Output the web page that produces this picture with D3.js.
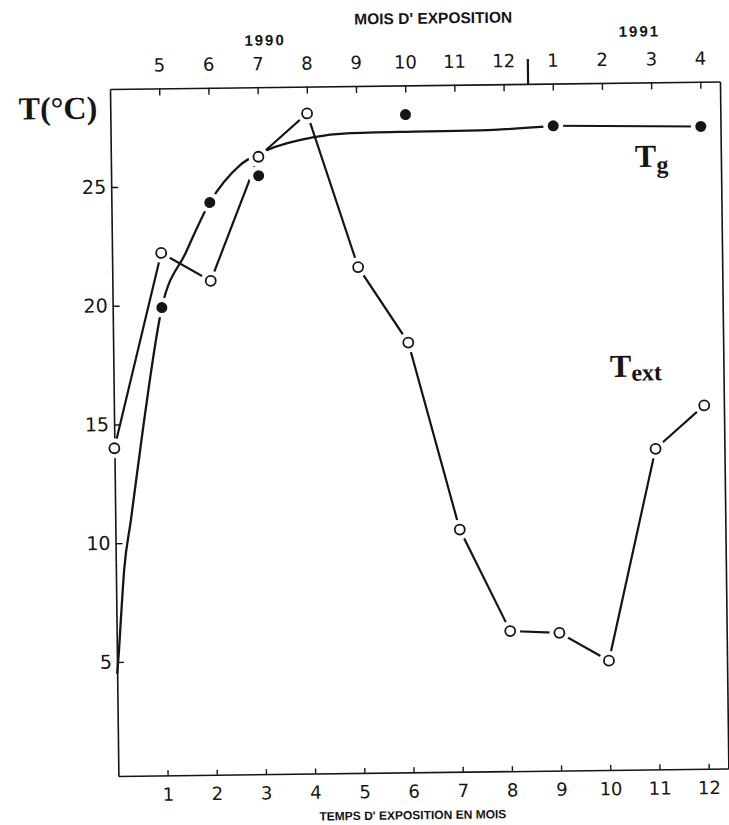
<!DOCTYPE html>
<html><head><meta charset="utf-8">
<script src="https://cdn.jsdelivr.net/npm/d3@7"></script>
<style>body{margin:0;background:#fff}</style>
</head><body>
<script>
// ---- data ----
const months = [0,1,2,3,4,5,6,7,8,9,10,11,12];
const textTemp = [14.0,22.2,21.0,26.2,28.0,21.5,18.3,10.4,6.1,6.0,4.8,13.7,15.5];
const tgMonths = [1,2,3,6,9,12];
const tgTemp = [19.9,24.3,25.4,27.9,27.35,27.25];
const tgCurveT = [0,0.04,0.09,0.17,0.32,0.6,1,1.5,2,2.62,3.17,4.11,4.8,6.16,7.52,9];
const tgCurveV = [4.5,5.4,6.8,8.9,11.0,15.0,19.9,22.2,24.3,25.85,26.47,26.99,27.14,27.18,27.2,27.35];
const tickMonths = [1,2,3,4,5,6,7,8,9,10,11,12];
const bottomLabels = ["1","2","3","4","5","6","7","8","9","10","11","12"];
const topLabels = ["5","6","7","8","9","10","11","12","1","2","3","4"];
const yTicks = [5,10,15,20,25];
const yearBreak = 8.5;

const W = 729, H = 825;
const PW = 610, PH = 687;
const ink = "#151515";

const svg = d3.select("body").append("svg").attr("width", W).attr("height", H)
  .style("background", "#fff");
const g = svg.append("g").attr("transform", "translate(110,89) rotate(-0.7)");

const x = d3.scaleLinear().domain([0, 12.4]).range([0, PW]);
const y = d3.scaleLinear().domain([0.2, 29.13]).range([PH, 0]);

const numFont = "'DejaVu Sans', sans-serif";

// top axis
const topAx = g.append("g").call(
  d3.axisTop(x).tickValues(tickMonths).tickSizeInner(-7).tickSizeOuter(0).tickPadding(17)
    .tickFormat((d, i) => topLabels[i]));
// bottom axis
const botAx = g.append("g").attr("transform", `translate(0,${PH})`).call(
  d3.axisBottom(x).tickValues(tickMonths).tickSizeInner(-5).tickSizeOuter(0).tickPadding(12.5)
    .tickFormat((d, i) => bottomLabels[i]));
// left axis
const leftAx = g.append("g").call(
  d3.axisLeft(y).tickValues(yTicks).tickSizeInner(-7).tickSizeOuter(0).tickPadding(5)
    .tickFormat(d3.format("d")));
// right axis
const rightAx = g.append("g").attr("transform", `translate(${PW},0)`).call(
  d3.axisRight(y).tickValues([]).tickSizeOuter(0));

[topAx, botAx, leftAx, rightAx].forEach(a => {
  a.selectAll("path.domain").attr("stroke", ink).attr("stroke-width", 1.6);
  a.selectAll(".tick line").attr("stroke", ink).attr("stroke-width", 1.4);
  a.selectAll(".tick text").attr("fill", ink).style("font-family", numFont)
    .style("font-size", "18px");
});
leftAx.selectAll(".tick text").style("font-size", "19px");

// year break marker
g.append("line").attr("x1", x(yearBreak)).attr("x2", x(yearBreak))
  .attr("y1", 0).attr("y2", -25).attr("stroke", ink).attr("stroke-width", 2.2);

// ---- series ----
const textPts = months.map((t, i) => ({t, v: textTemp[i]}));
const tgPts = tgMonths.map((t, i) => ({t, v: tgTemp[i]}));
const curvePts = tgCurveT.map((t, i) => ({t, v: tgCurveV[i]}));

const line = d3.line().x(d => x(d.t)).y(d => y(d.v));
const smooth = d3.line().x(d => x(d.t)).y(d => y(d.v)).curve(d3.curveMonotoneX);

g.append("path").attr("d", smooth(curvePts)).attr("fill", "none")
  .attr("stroke", ink).attr("stroke-width", 2.3);
g.append("path").attr("d", line(tgPts.filter(d => d.t >= 9))).attr("fill", "none")
  .attr("stroke", ink).attr("stroke-width", 2.0);
g.append("path").attr("d", line(textPts)).attr("fill", "none")
  .attr("stroke", ink).attr("stroke-width", 2.2);

// white halos to make the gaps around markers
g.selectAll("circle.halo").data(textPts.concat(tgPts)).enter().append("circle")
  .attr("class", "halo").attr("cx", d => x(d.t)).attr("cy", d => y(d.v))
  .attr("r", 10).attr("fill", "#fff");

g.selectAll("circle.open").data(textPts).enter().append("circle")
  .attr("class", "open").attr("cx", d => x(d.t)).attr("cy", d => y(d.v))
  .attr("r", 5).attr("fill", "#fff").attr("stroke", ink).attr("stroke-width", 1.8);
g.selectAll("circle.filled").data(tgPts).enter().append("circle")
  .attr("class", "filled").attr("cx", d => x(d.t)).attr("cy", d => y(d.v))
  .attr("r", 5.5).attr("fill", ink);

// ---- texts ----
const serif = "'Liberation Serif', 'Times New Roman', serif";
const sans = "'Liberation Sans', Arial, sans-serif";

g.append("text").attr("x", 324).attr("y", -61.5).attr("text-anchor", "middle")
  .style("font-family", sans).style("font-weight", "bold").style("font-size", "15.5px")
  .attr("fill", ink).text("MOIS D' EXPOSITION");
g.append("text").attr("x", 155.6).attr("y", -41.7).attr("text-anchor", "middle")
  .style("font-family", sans).style("font-weight", "bold").style("font-size", "15px")
  .style("letter-spacing", "2px").attr("fill", ink).text("1990");
g.append("text").attr("x", 530).attr("y", -46).attr("text-anchor", "middle")
  .style("font-family", sans).style("font-weight", "bold").style("font-size", "15px")
  .style("letter-spacing", "2px").attr("fill", ink).text("1991");

g.append("text").attr("x", 294).attr("y", 734).attr("text-anchor", "middle")
  .style("font-family", sans).style("font-weight", "bold").style("font-size", "12px")
  .attr("fill", ink).text("TEMPS D' EXPOSITION EN MOIS");

g.append("text").attr("x", -13).attr("y", 29.5).attr("text-anchor", "end")
  .style("font-family", serif).style("font-weight", "bold").style("font-size", "32px")
  .attr("fill", ink).text("T(°C)");

const tgLab = g.append("text").attr("x", 524).attr("y", 84.5)
  .style("font-family", serif).style("font-weight", "bold").attr("fill", ink);
tgLab.append("tspan").style("font-size", "32px").text("T");
tgLab.append("tspan").attr("dy", 6).style("font-size", "24px").text("g");

const teLab = g.append("text").attr("x", 496.5).attr("y", 294)
  .style("font-family", serif).style("font-weight", "bold").attr("fill", ink);
teLab.append("tspan").style("font-size", "32px").text("T");
teLab.append("tspan").attr("dy", 4).style("font-size", "24px").text("ext");
</script>
</body></html>
